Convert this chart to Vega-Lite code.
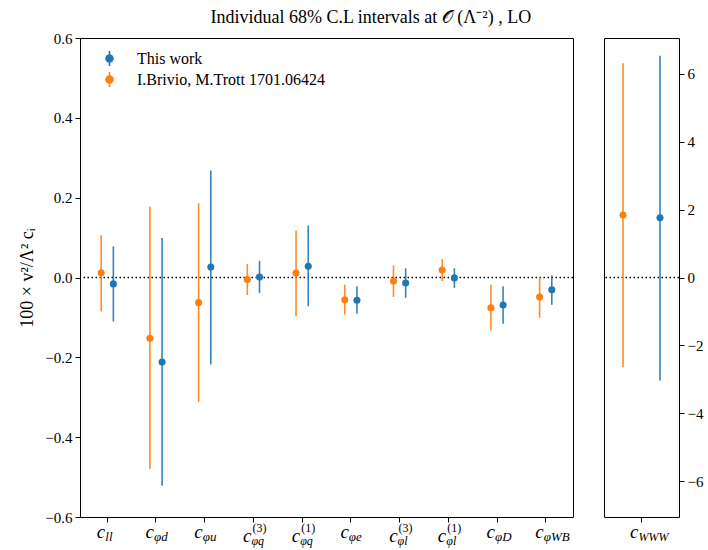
{
  "$schema": "https://vega.github.io/schema/vega-lite/v6.json",
  "background": "white",
  "padding": {"left": 18, "top": 8, "right": 5, "bottom": 3},
  "title": {"text": "Individual 68% C.L intervals at 𝒪 (Λ⁻²) ,  LO", "font": "Liberation Serif", "fontSize": 18, "fontWeight": "normal", "color": "#000", "anchor": "middle", "frame": "bounds", "offset": 4, "dx": 10},
  "config": {
    "view": {"stroke": "#000", "strokeWidth": 1},
    "axis": {"grid": false, "domain": false, "tickColor": "#000", "tickSize": 5, "labelFont": "Liberation Serif", "labelFontSize": 15, "labelColor": "#000", "titleFont": "Liberation Serif", "titleFontWeight": "normal", "titleColor": "#000", "labelPadding": 3}
  },
  "datasets": {
    "main": [
      {"coef": "ll", "series": "I.Brivio, M.Trott 1701.06424", "val": 0.012, "lo": -0.085, "hi": 0.106},
      {"coef": "ll", "series": "This work", "val": -0.016, "lo": -0.11, "hi": 0.078},
      {"coef": "phid", "series": "I.Brivio, M.Trott 1701.06424", "val": -0.152, "lo": -0.48, "hi": 0.178},
      {"coef": "phid", "series": "This work", "val": -0.212, "lo": -0.522, "hi": 0.099},
      {"coef": "phiu", "series": "I.Brivio, M.Trott 1701.06424", "val": -0.063, "lo": -0.312, "hi": 0.186},
      {"coef": "phiu", "series": "This work", "val": 0.026, "lo": -0.218, "hi": 0.268},
      {"coef": "phiq3", "series": "I.Brivio, M.Trott 1701.06424", "val": -0.005, "lo": -0.044, "hi": 0.034},
      {"coef": "phiq3", "series": "This work", "val": 0.001, "lo": -0.039, "hi": 0.042},
      {"coef": "phiq1", "series": "I.Brivio, M.Trott 1701.06424", "val": 0.011, "lo": -0.097, "hi": 0.118},
      {"coef": "phiq1", "series": "This work", "val": 0.028, "lo": -0.072, "hi": 0.13},
      {"coef": "phie", "series": "I.Brivio, M.Trott 1701.06424", "val": -0.056, "lo": -0.093, "hi": -0.018},
      {"coef": "phie", "series": "This work", "val": -0.057, "lo": -0.091, "hi": -0.022},
      {"coef": "phil3", "series": "I.Brivio, M.Trott 1701.06424", "val": -0.009, "lo": -0.049, "hi": 0.03},
      {"coef": "phil3", "series": "This work", "val": -0.014, "lo": -0.051, "hi": 0.023},
      {"coef": "phil1", "series": "I.Brivio, M.Trott 1701.06424", "val": 0.019, "lo": -0.009, "hi": 0.046},
      {"coef": "phil1", "series": "This work", "val": -0.001, "lo": -0.026, "hi": 0.023},
      {"coef": "phiD", "series": "I.Brivio, M.Trott 1701.06424", "val": -0.076, "lo": -0.133, "hi": -0.018},
      {"coef": "phiD", "series": "This work", "val": -0.069, "lo": -0.116, "hi": -0.022},
      {"coef": "phiWB", "series": "I.Brivio, M.Trott 1701.06424", "val": -0.049, "lo": -0.101, "hi": 0.002},
      {"coef": "phiWB", "series": "This work", "val": -0.031, "lo": -0.068, "hi": 0.005}
    ],
    "www": [
      {"coef": "WWW", "series": "I.Brivio, M.Trott 1701.06424", "val": 1.84, "lo": -2.64, "hi": 6.31},
      {"coef": "WWW", "series": "This work", "val": 1.76, "lo": -3.03, "hi": 6.53}
    ],
    "labels": [
      {"coef": "ll", "base": "c", "sub": "ll", "sup": ""},
      {"coef": "phid", "base": "c", "sub": "φd", "sup": ""},
      {"coef": "phiu", "base": "c", "sub": "φu", "sup": ""},
      {"coef": "phiq3", "base": "c", "sub": "φq", "sup": "(3)"},
      {"coef": "phiq1", "base": "c", "sub": "φq", "sup": "(1)"},
      {"coef": "phie", "base": "c", "sub": "φe", "sup": ""},
      {"coef": "phil3", "base": "c", "sub": "φl", "sup": "(3)"},
      {"coef": "phil1", "base": "c", "sub": "φl", "sup": "(1)"},
      {"coef": "phiD", "base": "c", "sub": "φD", "sup": ""},
      {"coef": "phiWB", "base": "c", "sub": "φWB", "sup": ""}
    ],
    "wwwlabels": [
      {"coef": "WWW", "base": "c", "sub": "WWW", "sup": ""}
    ]
  },
  "spacing": 31,
  "bounds": "flush",
  "resolve": {"scale": {"x": "independent", "y": "independent", "xOffset": "independent"}},
  "hconcat": [
    {
      "width": 493,
      "height": 479,
      "encoding": {
        "x": {"field": "coef", "type": "nominal", "scale": {"domain": ["ll", "phid", "phiu", "phiq3", "phiq1", "phie", "phil3", "phil1", "phiD", "phiWB"], "paddingInner": 0, "paddingOuter": 0.06}, "axis": {"labels": false, "title": null, "ticks": true, "orient": "bottom"}}
      },
      "layer": [
        {
          "data": {"values": [{"zero": 0}]},
          "mark": {"type": "rule", "strokeDash": [1.5, 2.5], "strokeWidth": 1.5, "color": "#000"},
          "encoding": {"x": null, "y": {"field": "zero", "type": "quantitative"}}
        },
        {
          "data": {"name": "main"},
          "mark": {"type": "rule", "strokeWidth": 1.6, "opacity": 0.9},
          "encoding": {
            "xOffset": {"field": "series", "type": "nominal", "scale": {"domain": ["I.Brivio, M.Trott 1701.06424", "This work"], "paddingInner": 0, "paddingOuter": 1.435}},
            "y": {"field": "lo", "type": "quantitative", "scale": {"domain": [-0.6, 0.6], "nice": false}, "axis": {"values": [-0.6, -0.4, -0.2, 0, 0.2, 0.4, 0.6], "format": ".1f", "title": "100 × v²/Λ² cᵢ", "titleFontSize": 18, "titlePadding": 8}},
            "y2": {"field": "hi"},
            "color": {"field": "series", "type": "nominal", "scale": {"domain": ["This work", "I.Brivio, M.Trott 1701.06424"], "range": ["#1f77b4", "#ff7f0e"]}}
          }
        },
        {
          "data": {"name": "main"},
          "mark": {"type": "point", "filled": true, "size": 50, "opacity": 1},
          "encoding": {
            "xOffset": {"field": "series", "type": "nominal"},
            "y": {"field": "val", "type": "quantitative"},
            "color": {"field": "series", "type": "nominal", "legend": {"title": null, "orient": "none", "legendX": 21, "legendY": 12, "padding": 0, "labelFont": "Liberation Serif", "labelFontSize": 16, "labelColor": "#000", "labelOffset": 19, "labelLimit": 500, "rowPadding": -2, "symbolType": "M0,-1L0,1M0.47,0A0.47,0.47,0,1,1,-0.47,0A0.47,0.47,0,1,1,0.47,0Z", "symbolSize": 225, "symbolStrokeWidth": 1.6, "symbolOpacity": 1, "encode": {"symbols": {"update": {"stroke": {"signal": "datum.value === 'This work' ? '#1f77b4' : '#ff7f0e'"}, "fill": {"signal": "datum.value === 'This work' ? '#1f77b4' : '#ff7f0e'"}, "strokeWidth": {"value": 1.6}}}}}}
          }
        },
        {
          "data": {"name": "labels"},
          "transform": [{"filter": "datum.sup === ''"}],
          "layer": [
            {"mark": {"type": "text", "align": "right", "baseline": "alphabetic", "dx": -2, "dy": 21, "font": "Liberation Serif", "fontStyle": "italic", "fontSize": 19, "color": "#000"},
             "encoding": {"y": {"datum": -0.6, "type": "quantitative"}, "text": {"field": "base"}}},
            {"mark": {"type": "text", "align": "left", "baseline": "alphabetic", "dx": -2, "dy": 24, "font": "Liberation Serif", "fontStyle": "italic", "fontSize": 13, "color": "#000"},
             "encoding": {"y": {"datum": -0.6, "type": "quantitative"}, "text": {"field": "sub"}}}
          ]
        },
        {
          "data": {"name": "labels"},
          "transform": [{"filter": "datum.sup !== ''"}],
          "layer": [
            {"mark": {"type": "text", "align": "right", "baseline": "alphabetic", "dx": -2, "dy": 25, "font": "Liberation Serif", "fontStyle": "italic", "fontSize": 19, "color": "#000"},
             "encoding": {"y": {"datum": -0.6, "type": "quantitative"}, "text": {"field": "base"}}},
            {"mark": {"type": "text", "align": "left", "baseline": "alphabetic", "dx": -2, "dy": 28, "font": "Liberation Serif", "fontStyle": "italic", "fontSize": 12, "color": "#000"},
             "encoding": {"y": {"datum": -0.6, "type": "quantitative"}, "text": {"field": "sub"}}},
            {"mark": {"type": "text", "align": "left", "baseline": "alphabetic", "dx": -1, "dy": 15, "font": "Liberation Serif", "fontSize": 12, "color": "#000"},
             "encoding": {"y": {"datum": -0.6, "type": "quantitative"}, "text": {"field": "sup"}}}
          ]
        }
      ]
    },
    {
      "width": 75,
      "height": 479,
      "encoding": {
        "x": {"field": "coef", "type": "nominal", "scale": {"domain": ["WWW"], "paddingInner": 0, "paddingOuter": 0}, "axis": {"labels": false, "title": null, "ticks": true, "orient": "bottom"}}
      },
      "layer": [
        {
          "data": {"values": [{"zero": 0}]},
          "mark": {"type": "rule", "strokeDash": [1.5, 2.5], "strokeWidth": 1.5, "color": "#000"},
          "encoding": {"x": null, "y": {"field": "zero", "type": "quantitative"}}
        },
        {
          "data": {"name": "www"},
          "mark": {"type": "rule", "strokeWidth": 1.6, "opacity": 0.9},
          "encoding": {
            "xOffset": {"field": "series", "type": "nominal", "scale": {"domain": ["I.Brivio, M.Trott 1701.06424", "This work"], "paddingInner": 0, "paddingOuter": 0.014}},
            "y": {"field": "lo", "type": "quantitative", "scale": {"domain": [-7.05, 7.05], "nice": false}, "axis": {"orient": "right", "values": [-6, -4, -2, 0, 2, 4, 6], "format": "d", "title": null}},
            "y2": {"field": "hi"},
            "color": {"field": "series", "type": "nominal", "scale": {"domain": ["This work", "I.Brivio, M.Trott 1701.06424"], "range": ["#1f77b4", "#ff7f0e"]}}
          }
        },
        {
          "data": {"name": "www"},
          "mark": {"type": "point", "filled": true, "size": 50, "opacity": 1},
          "encoding": {
            "xOffset": {"field": "series", "type": "nominal"},
            "y": {"field": "val", "type": "quantitative"},
            "color": {"field": "series", "type": "nominal"}
          }
        },
        {
          "data": {"name": "wwwlabels"},
          "layer": [
            {"mark": {"type": "text", "align": "right", "baseline": "alphabetic", "dx": -3, "dy": 21, "font": "Liberation Serif", "fontStyle": "italic", "fontSize": 19, "color": "#000"},
             "encoding": {"y": {"datum": -7.05, "type": "quantitative"}, "text": {"field": "base"}}},
            {"mark": {"type": "text", "align": "left", "baseline": "alphabetic", "dx": -3, "dy": 24, "font": "Liberation Serif", "fontStyle": "italic", "fontSize": 12, "color": "#000"},
             "encoding": {"y": {"datum": -7.05, "type": "quantitative"}, "text": {"field": "sub"}}}
          ]
        }
      ]
    }
  ]
}
